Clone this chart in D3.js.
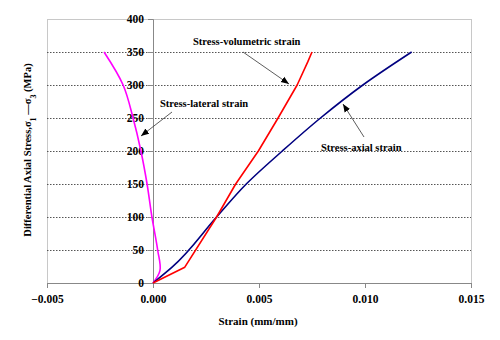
<!DOCTYPE html>
<html><head><meta charset="utf-8">
<script src="https://cdn.jsdelivr.net/npm/d3@7"></script>
<style>body{margin:0;background:#fff}svg{display:block}text{font-family:"Liberation Serif","Times New Roman",serif;font-weight:bold}</style>
</head><body><svg id="c" width="500" height="340"></svg>
<script>
const xTicks = [-0.005, 0.000, 0.005, 0.010, 0.015];
const yTicks = [0, 50, 100, 150, 200, 250, 300, 350, 400];

const axialStrain = [0, 0.0009, 0.0030, 0.0044, 0.0061, 0.0079, 0.0099, 0.0122];
const axialStress = [0, 24, 100, 150, 200, 250, 300, 350];

const volStrain = [0, 0.0015, 0.0030, 0.0039, 0.00497, 0.0059, 0.0068, 0.0073, 0.0075];
const volStress = [0, 24, 100, 150, 200, 250, 300, 335, 350];

const latStrain = [0, 0.00033, 0.00022, -0.00005, -0.00028, -0.00057, -0.00094, -0.00141, -0.00231];
const latStress = [0, 19, 50, 100, 150, 200, 250, 300, 350];

const svg = d3.select("#c");
const L = 47, R = 471, T = 19, B = 283;
const x = d3.scaleLinear().domain([-0.005, 0.015]).range([L, R]);
const y = d3.scaleLinear().domain([0, 400]).range([B, T]);

svg.append("defs").append("marker").attr("id","ah").attr("viewBox","0 0 10 10")
  .attr("refX",10).attr("refY",5).attr("markerWidth",8).attr("markerHeight",8)
  .attr("orient","auto-start-reverse").attr("markerUnits","userSpaceOnUse")
  .append("path").attr("d","M0,1 L10,5 L0,9 Z").attr("fill","#000");

// border
svg.append("rect").attr("x",L+0.5).attr("y",T+0.5).attr("width",R-L).attr("height",B-T)
  .attr("fill","none").attr("stroke","#c8c8c8").attr("stroke-width",1);

// gridlines
svg.append("g").selectAll("line").data(yTicks.filter(d=>d>0&&d<400)).join("line")
  .attr("x1",L).attr("x2",R).attr("y1",d=>Math.round(y(d))+0.5).attr("y2",d=>Math.round(y(d))+0.5)
  .attr("stroke","#555").attr("stroke-width",1).attr("stroke-dasharray","1.5,1.5");

// x axis
const xa = svg.append("g").attr("transform",`translate(0,${B})`)
  .call(d3.axisBottom(x).tickValues(xTicks).tickFormat(d3.format(".3f")).tickSize(5).tickPadding(7));
xa.select(".domain").attr("stroke","#888");
xa.selectAll(".tick line").attr("stroke","#888");
xa.selectAll("text").attr("font-size",11.5).attr("fill","#000");

// y axis at x=0
const ya = svg.append("g").attr("transform",`translate(${x(0)},0)`)
  .call(d3.axisLeft(y).tickValues(yTicks).tickSize(5).tickPadding(4));
ya.select(".domain").attr("stroke","#888");
ya.selectAll(".tick line").attr("stroke","#888");
ya.selectAll("text").attr("font-size",11.5).attr("fill","#000");

function draw(xs, ys, color, curve){
  svg.append("path").datum(xs.map((v,i)=>[v,ys[i]]))
    .attr("d", d3.line().x(d=>x(d[0])).y(d=>y(d[1])).curve(curve)).attr("fill","none")
    .attr("stroke",color).attr("stroke-width",1.6).attr("stroke-linejoin","round");
}
draw(latStrain, latStress, "#ff00ff", d3.curveCatmullRom);
draw(axialStrain, axialStress, "#000080", d3.curveMonotoneY);
draw(volStrain, volStress, "#ff0000", d3.curveLinear);

// annotations
function ann(txt, tx, ty, x1, y1, x2, y2){
  svg.append("text").attr("x",tx).attr("y",ty).attr("font-size",10.5).attr("fill","#000").text(txt);
  svg.append("line").attr("x1",x1).attr("y1",y1).attr("x2",x2).attr("y2",y2)
    .attr("stroke","#333").attr("stroke-width",0.8).attr("marker-end","url(#ah)");
}
ann("Stress-volumetric strain", 193, 45, 243, 52, 289, 84);
ann("Stress-lateral strain", 160, 107, 172, 112, 141, 136);
ann("Stress-axial strain", 321, 151, 364, 137, 343, 104);

// axis titles
svg.append("text").attr("x",258).attr("y",325).attr("text-anchor","middle")
  .attr("font-size",11).text("Strain (mm/mm)");
const yt = svg.append("text").attr("transform","translate(31,150) rotate(-90)")
  .attr("text-anchor","middle").attr("font-size",10.5);
yt.append("tspan").text("Differential Axial Stress,σ");
yt.append("tspan").attr("baseline-shift","sub").attr("font-size",8).text("1");
yt.append("tspan").text(" —σ");
yt.append("tspan").attr("baseline-shift","sub").attr("font-size",8).text("3");
yt.append("tspan").text(" (MPa)");
</script></body></html>
